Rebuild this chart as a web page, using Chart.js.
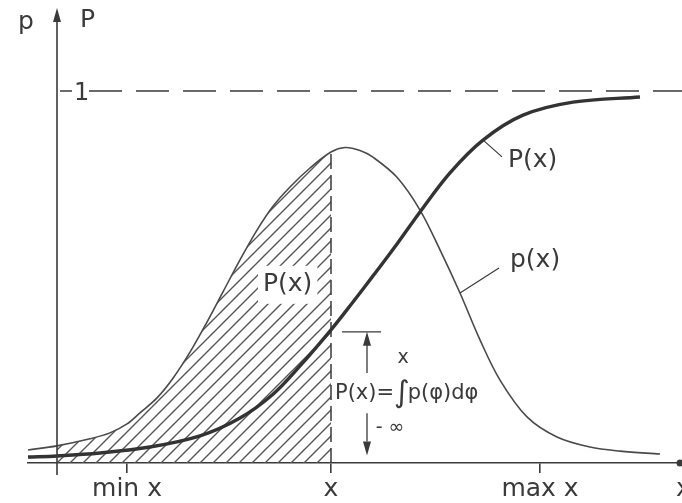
<!DOCTYPE html>
<html>
<head>
<meta charset="utf-8">
<script src="https://cdn.jsdelivr.net/npm/chart.js@4.4.1/dist/chart.umd.min.js"></script>
<style>
  html, body { margin: 0; padding: 0; background: #fff; }
  #wrap { width: 682px; height: 503px; }
</style>
</head>
<body>
<div id="wrap"><canvas id="chart" width="682" height="503"></canvas></div>
<script>
// axis ticks
const tickValues = [0.70, 2.74, 4.83];
const tickLabels = ['min x', 'x', 'max x'];

// density p(x)
const densityX = [-0.29, 0, 0.33, 0.53, 0.70, 0.83, 1.00, 1.16, 1.33, 1.50, 1.66, 1.83, 2.00, 2.16, 2.33, 2.53, 2.74, 2.88, 3.03, 3.16, 3.40, 3.63, 3.83, 4.03, 4.23, 4.43, 4.70, 5.00, 5.33, 5.63, 6.03];
const densityY = [0.035, 0.046, 0.065, 0.081, 0.105, 0.135, 0.175, 0.228, 0.298, 0.379, 0.460, 0.546, 0.626, 0.690, 0.742, 0.793, 0.836, 0.848, 0.840, 0.822, 0.768, 0.680, 0.573, 0.457, 0.331, 0.223, 0.124, 0.070, 0.043, 0.032, 0.024];

// cumulative P(x)
const cumulativeX = [-0.29, 0, 0.43, 0.93, 1.43, 1.83, 2.16, 2.43, 2.74, 2.96, 3.16, 3.40, 3.63, 3.93, 4.26, 4.66, 5.16, 5.83];
const cumulativeY = [0.016, 0.019, 0.027, 0.043, 0.073, 0.121, 0.185, 0.261, 0.358, 0.433, 0.503, 0.589, 0.675, 0.780, 0.868, 0.935, 0.970, 0.984];

const markedX = 2.74;      // the "x" up to which the area is hatched
const shadeStart = 0;      // hatching starts at the p axis
const oneLevel = 1;        // dashed "1" line

const FONT = '"DejaVu Sans", sans-serif';
const INK = '#3a3a3a';

const toPoints = (xs, ys) => xs.map((x, i) => ({ x: x, y: ys[i] }));
const densityPts = toPoints(densityX, densityY);
const shadePts = densityPts.filter(p => p.x >= shadeStart && p.x <= markedX);
const markedTop = densityY[densityX.indexOf(markedX)];
const markedP = cumulativeY[cumulativeX.indexOf(markedX)];

// diagonal hatch pattern
function makeHatch() {
  const s = 13;
  const c = document.createElement('canvas');
  c.width = s; c.height = s;
  const g = c.getContext('2d');
  g.strokeStyle = '#555';
  g.lineWidth = 1.4;
  g.beginPath();
  g.moveTo(0, s); g.lineTo(s, 0);
  g.moveTo(-2, 2); g.lineTo(2, -2);
  g.moveTo(s - 2, s + 2); g.lineTo(s + 2, s - 2);
  g.stroke();
  return g.createPattern(c, 'repeat');
}

function arrowHead(ctx, x, y, dir) {
  // dir: -1 up, 1 down
  ctx.beginPath();
  ctx.moveTo(x, y);
  ctx.lineTo(x - 4, y - dir * 14);
  ctx.lineTo(x + 4, y - dir * 14);
  ctx.closePath();
  ctx.fill();
}

const decor = {
  id: 'decor',
  afterDatasetsDraw(chart) {
    const { ctx, chartArea: a, scales: { x: xs, y: ys } } = chart;
    const X = v => xs.getPixelForValue(v);
    const Y = v => ys.getPixelForValue(v);
    ctx.save();
    ctx.strokeStyle = INK;
    ctx.fillStyle = INK;

    // p / P axis with arrow
    ctx.lineWidth = 1.6;
    ctx.beginPath();
    ctx.moveTo(X(0), Y(0) + 12);
    ctx.lineTo(X(0), a.top + 12);
    ctx.stroke();
    arrowHead(ctx, X(0), a.top, -1);

    // dot at the end of the x axis
    ctx.beginPath();
    ctx.arc(X(6.23), Y(0), 3.5, 0, Math.PI * 2);
    ctx.fill();

    ctx.textBaseline = 'middle';
    ctx.textAlign = 'left';
    ctx.font = '25px ' + FONT;
    ctx.fillText('p', X(-0.39), Y(1.185));
    ctx.fillText('P', X(0.23), Y(1.19));
    ctx.fillText('x', X(6.19), 489);

    // "1" on the axis
    ctx.lineWidth = 1.5;
    ctx.beginPath();
    ctx.moveTo(X(0.03), Y(oneLevel));
    ctx.lineTo(X(0.15), Y(oneLevel));
    ctx.stroke();
    ctx.font = '24px ' + FONT;
    ctx.fillText('1', X(0.17), Y(oneLevel) + 3);

    // label inside the hatched area
    ctx.font = '25px ' + FONT;
    const inner = 'P(x)';
    const iw = ctx.measureText(inner).width;
    ctx.fillStyle = '#fff';
    ctx.fillRect(X(2.01), Y(0.53), iw + 10, 38);
    ctx.fillStyle = INK;
    ctx.fillText(inner, X(2.06), Y(0.48));

    // curve labels with leaders
    ctx.lineWidth = 1.2;
    ctx.beginPath();
    ctx.moveTo(X(4.27), Y(0.866)); ctx.lineTo(X(4.45), Y(0.823));
    ctx.moveTo(X(4.03), Y(0.457)); ctx.lineTo(X(4.42), Y(0.524));
    ctx.stroke();
    ctx.fillText('P(x)', X(4.51), Y(0.814));
    ctx.fillText('p(x)', X(4.53), Y(0.545));

    // integral annotation
    ctx.lineWidth = 1.3;
    ctx.beginPath();
    ctx.moveTo(X(2.85), Y(markedP) + 2); ctx.lineTo(X(3.24), Y(markedP) + 2);
    ctx.moveTo(X(3.10), Y(markedP) + 14); ctx.lineTo(X(3.10), Y(0.242));
    ctx.moveTo(X(3.10), Y(0.134)); ctx.lineTo(X(3.10), Y(0.02) - 14);
    ctx.stroke();
    arrowHead(ctx, X(3.10), Y(markedP) + 2, -1);
    arrowHead(ctx, X(3.10), Y(0.02), 1);

    ctx.font = '21px ' + FONT;
    let tx = X(2.78);
    const ty = Y(0.188);
    ctx.fillText('P(x)=', tx, ty);
    tx += ctx.measureText('P(x)=').width;
    ctx.font = '30px ' + FONT;
    ctx.fillText('\u222B', tx, ty + 1);
    tx += ctx.measureText('\u222B').width - 2;
    ctx.font = '21px ' + FONT;
    ctx.fillText('p(\u03C6)d\u03C6', tx, ty);
    ctx.font = '19px ' + FONT;
    ctx.textAlign = 'center';
    ctx.fillText('x', X(3.46), Y(0.282));
    ctx.fillText('- \u221E', X(3.33), Y(0.094));

    ctx.restore();
  }
};

new Chart(document.getElementById('chart'), {
  type: 'line',
  data: {
    datasets: [
      {
        label: 'hatch',
        data: shadePts,
        borderWidth: 0,
        borderColor: 'rgba(0,0,0,0)',
        backgroundColor: makeHatch(),
        fill: 'origin',
        pointRadius: 0,
        tension: 0.35,
        order: 10
      },
      {
        label: 'marked x',
        data: [{ x: markedX, y: 0 }, { x: markedX, y: markedTop }],
        borderColor: INK,
        borderWidth: 1.5,
        borderDash: [15, 6],
        pointRadius: 0,
        order: 4
      },
      {
        label: 'one',
        data: [{ x: 0.32, y: oneLevel }, { x: 6.25, y: oneLevel }],
        borderColor: INK,
        borderWidth: 1.5,
        borderDash: [33, 14],
        pointRadius: 0,
        order: 4
      },
      {
        label: 'p(x)',
        data: densityPts,
        borderColor: '#4a4a4a',
        borderWidth: 1.6,
        pointRadius: 0,
        tension: 0.35,
        order: 2
      },
      {
        label: 'P(x)',
        data: toPoints(cumulativeX, cumulativeY),
        borderColor: '#333',
        borderWidth: 3.4,
        pointRadius: 0,
        tension: 0.35,
        order: 1
      }
    ]
  },
  options: {
    responsive: false,
    devicePixelRatio: 1,
    animation: false,
    layout: { padding: { left: 28, right: 0, top: 8, bottom: 0 } },
    plugins: { legend: { display: false }, tooltip: { enabled: false } },
    scales: {
      x: {
        type: 'linear',
        min: -0.29,
        max: 6.25,
        afterBuildTicks: s => { s.ticks = tickValues.map(v => ({ value: v })); },
        afterFit: s => { s.height = 40; },
        ticks: {
          callback: (v, i) => tickLabels[i],
          autoSkip: false,
          maxRotation: 0,
          padding: 1,
          color: INK,
          font: { family: FONT, size: 25 }
        },
        grid: { drawOnChartArea: false, drawTicks: true, tickLength: 10, color: INK, lineWidth: 1.6 },
        border: { display: true, color: INK, width: 1.6 }
      },
      y: { display: false, min: 0, max: 1.2231 }
    }
  },
  plugins: [decor]
});
</script>
</body>
</html>
